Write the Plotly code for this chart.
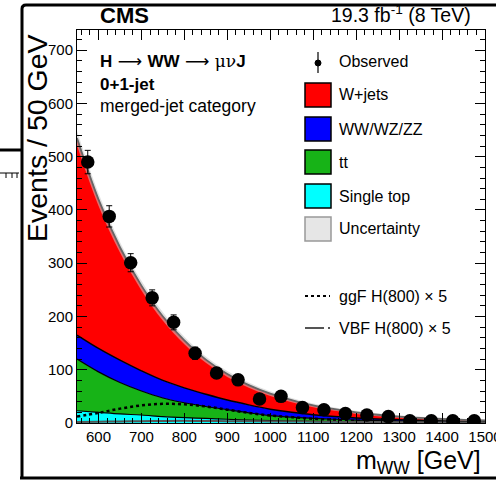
import plotly.graph_objects as go
import numpy as np

# ---------------- data ----------------
x_grid = [550, 600, 650, 700, 750, 800, 850, 900, 950, 1000,
          1050, 1100, 1150, 1200, 1250, 1300, 1350, 1400, 1450, 1500]
single_top = [23, 20, 17, 15, 12, 10, 8.5, 7, 5.5, 4.5, 3.8, 3, 2.5, 2, 1.7, 1.5, 1.2, 1, 0.8, 0.7]
ttbar = [97, 76, 59, 45, 35, 28, 22.5, 18, 13.5, 9.5, 7.2, 5.5, 4.5, 3.5, 2.8, 2, 1.8, 1.3, 1, 0.7]
diboson = [45, 44, 42, 38, 33, 28, 23, 18, 15, 12, 9, 7, 5, 4, 3, 2.5, 2, 1.7, 1.5, 1.4]
wjets = [370, 280, 212, 160, 120, 89, 65, 49, 37, 29, 23, 17.5, 14, 10.5, 8, 6, 4.5, 3.5, 2.7, 2]
bkg_unc = [14, 12, 10, 9, 8, 7, 6, 5.5, 5, 4.5, 4, 3.5, 3.2, 3, 2.8, 2.6, 2.4, 2.2, 2, 1.8]
ggf_x5 = [12, 19, 27, 33, 36, 35, 31, 25, 19, 14, 11, 8, 6, 4, 3, 2, 1.5, 1, 0.7, 0.5]
vbf_x5 = [2, 2.5, 3, 3.5, 3.8, 4, 3.8, 3.5, 3.2, 3, 2.7, 2.5, 2.2, 2, 1.8, 1.5, 1.3, 1, 0.9, 0.8]

obs_x = [575, 625, 675, 725, 775, 825, 875, 925, 975, 1025,
         1075, 1125, 1175, 1225, 1275, 1325, 1375, 1425, 1475]
obs_y = [490, 388, 301, 235, 189, 131, 94, 81, 45, 50, 29, 25, 18, 15, 12, 4, 4, 4, 4]
obs_err = [22, 20, 17, 15, 14, 11.5, 9.7, 9, 6.7, 7, 5.4, 5, 4.2, 3.9, 3.5, 2, 2, 2, 2]

x_tickvals = [600, 700, 800, 900, 1000, 1100, 1200, 1300, 1400, 1500]

legend_labels = ["Observed", "W+jets", "WW/WZ/ZZ", "tt", "Single top", "Uncertainty"]
legend_colors = [None, "#ff0000", "#0000ff", "#17b317", "#00ffff", "#e6e6e6"]

# ---------------- geometry helpers (pixel -> paper) ----------------
L, R, T, B = 77, 485, 30, 423
W, H = 496, 482
def px(x):
    return (x - L) / (R - L)
def py(y):
    return (B - y) / (B - T)

FONT = "Liberation Sans, Arial, Helvetica, sans-serif"

c1 = np.array(single_top)
c2 = c1 + np.array(ttbar)
c3 = c2 + np.array(diboson)
c4 = c3 + np.array(wjets)
unc = np.array(bkg_unc)

fig = go.Figure()
common = dict(x=x_grid, mode="lines", showlegend=False, hoverinfo="skip")
fig.add_trace(go.Scatter(y=c1, fill="tozeroy", fillcolor="#00ffff",
                         line=dict(color="black", width=1.2, shape="spline"), **common))
fig.add_trace(go.Scatter(y=c2, fill="tonexty", fillcolor="#17b317",
                         line=dict(color="black", width=1.2, shape="spline"), **common))
fig.add_trace(go.Scatter(y=c3, fill="tonexty", fillcolor="#0000ff",
                         line=dict(color="black", width=1.5, shape="spline"), **common))
fig.add_trace(go.Scatter(y=c4, fill="tonexty", fillcolor="#ff0000",
                         line=dict(color="#ff0000", width=0.5, shape="spline"), **common))
# uncertainty band
fig.add_trace(go.Scatter(y=c4 - unc, line=dict(color="rgba(0,0,0,0)", width=0, shape="spline"), **common))
fig.add_trace(go.Scatter(y=c4 + unc, fill="tonexty", fillcolor="rgba(200,200,200,0.55)",
                         line=dict(color="rgba(0,0,0,0)", width=0, shape="spline"), **common))
fig.add_trace(go.Scatter(y=c4, line=dict(color="#666666", width=1.8, shape="spline"), **common))
# signals
fig.add_trace(go.Scatter(y=ggf_x5, line=dict(color="black", width=2.5, dash="dot", shape="spline"), **common))
fig.add_trace(go.Scatter(y=vbf_x5, line=dict(color="#555555", width=2, shape="spline"), **common))
# observed
fig.add_trace(go.Scatter(x=obs_x, y=obs_y, mode="markers", showlegend=False,
                         marker=dict(color="black", size=13.5),
                         error_y=dict(type="data", array=obs_err, color="black", thickness=1, width=3)))

shapes = []
ann = []

# legend
ylist = [62, 95, 129, 162, 196, 229]
for i, (lab, col) in enumerate(zip(legend_labels, legend_colors)):
    yc = ylist[i]
    if col is None:
        shapes.append(dict(type="line", xref="paper", yref="paper", x0=px(318), x1=px(318),
                           y0=py(52), y1=py(73), line=dict(color="black", width=1.2)))
        shapes.append(dict(type="circle", xref="paper", yref="paper", x0=px(315), x1=px(321),
                           y0=py(60), y1=py(66), fillcolor="black", line=dict(color="black", width=1)))
    else:
        lc = "#999999" if lab == "Uncertainty" else "black"
        shapes.append(dict(type="rect", xref="paper", yref="paper", x0=px(305), x1=px(331),
                           y0=py(yc + 12), y1=py(yc - 12), fillcolor=col, line=dict(color=lc, width=1.5)))
    ann.append(dict(text=lab, xref="paper", yref="paper", x=px(337), y=py(yc), xanchor="left",
                    yanchor="middle", showarrow=False, font=dict(family=FONT, size=16, color="black")))

shapes.append(dict(type="line", xref="paper", yref="paper", x0=px(305), x1=px(330), y0=py(296), y1=py(296),
                   line=dict(color="black", width=2, dash="dot")))
ann.append(dict(text="ggF H(800) × 5", xref="paper", yref="paper", x=px(337), y=py(296), xanchor="left",
                yanchor="middle", showarrow=False, font=dict(family=FONT, size=16, color="black")))
shapes.append(dict(type="line", xref="paper", yref="paper", x0=px(305), x1=px(324), y0=py(328), y1=py(328),
                   line=dict(color="#555555", width=2)))
shapes.append(dict(type="line", xref="paper", yref="paper", x0=px(328), x1=px(330), y0=py(328), y1=py(328),
                   line=dict(color="#555555", width=2)))
ann.append(dict(text="VBF H(800) × 5", xref="paper", yref="paper", x=px(337), y=py(328), xanchor="left",
                yanchor="middle", showarrow=False, font=dict(family=FONT, size=16, color="black")))

# texts
ARROW = "<span style=\"font-family:'DejaVu Sans';font-weight:normal\"> ⟶ </span>"
GREEK = "<span style=\"font-family:'DejaVu Serif';font-weight:normal\">μν</span>"
ann.append(dict(text="<b>CMS</b>", xref="paper", yref="paper", x=px(98), y=py(15), xanchor="left",
                yanchor="middle", showarrow=False, font=dict(family=FONT, size=22, color="black")))
ann.append(dict(text="19.3 fb<sup>-1</sup> (8 TeV)", xref="paper", yref="paper", x=px(473), y=py(14),
                xanchor="right", yanchor="middle", showarrow=False, font=dict(family=FONT, size=19.5, color="black")))
ann.append(dict(text="<b>H" + ARROW + "WW" + ARROW + GREEK + "J</b>", xref="paper", yref="paper", x=px(98), y=py(61),
                xanchor="left", yanchor="middle", showarrow=False, font=dict(family=FONT, size=17, color="black")))
ann.append(dict(text="<b>0+1-jet</b>", xref="paper", yref="paper", x=px(98), y=py(84), xanchor="left",
                yanchor="middle", showarrow=False, font=dict(family=FONT, size=17, color="black")))
ann.append(dict(text="merged-jet category", xref="paper", yref="paper", x=px(98), y=py(106), xanchor="left",
                yanchor="middle", showarrow=False, font=dict(family=FONT, size=17.5, color="black")))
ann.append(dict(text="Events / 50 GeV", xref="paper", yref="paper", x=px(37), y=py(138), xanchor="center",
                yanchor="middle", textangle=-90, showarrow=False, font=dict(family=FONT, size=28.5, color="black")))
ann.append(dict(text="m<sub>WW</sub> [GeV]", xref="paper", yref="paper", x=px(483), y=py(462), xanchor="right",
                yanchor="middle", showarrow=False, font=dict(family=FONT, size=25, color="black")))

# outer frame fragments
fr = dict(color="black", width=3)
shapes.append(dict(type="path", xref="paper", yref="paper",
                   path=f"M {px(22)},{py(478)} L {px(22)},{py(9)} Q {px(22)},{py(5)} {px(26)},{py(5)} L {px(500)},{py(5)}",
                   line=fr))
shapes.append(dict(type="line", xref="paper", yref="paper", x0=px(20), x1=px(500), y0=py(478), y1=py(478), line=fr))
shapes.append(dict(type="line", xref="paper", yref="paper", x0=px(-5), x1=px(22), y0=py(150), y1=py(150), line=fr))
shapes.append(dict(type="line", xref="paper", yref="paper", x0=px(-5), x1=px(19), y0=py(173), y1=py(173),
                   line=dict(color="black", width=1)))
for tx in [6, 12, 17]:
    shapes.append(dict(type="line", xref="paper", yref="paper", x0=px(tx), x1=px(tx), y0=py(173), y1=py(178),
                       line=dict(color="black", width=1)))

fig.update_layout(
    width=W, height=H, autosize=False,
    margin=dict(l=L, r=W - R, t=T, b=H - B, autoexpand=False),
    paper_bgcolor="white", plot_bgcolor="white",
    shapes=shapes, annotations=ann, showlegend=False,
    font=dict(family=FONT, size=15, color="black"),
)
axis_common = dict(showline=True, linecolor="black", linewidth=1, mirror="ticks", ticks="inside",
                   ticklen=10, tickcolor="black", showgrid=False, zeroline=False, automargin=False,
                   tickfont=dict(family=FONT, size=15, color="black"))
fig.update_xaxes(range=[550, 1500.01], tickmode="array", tickvals=x_tickvals,
                 ticktext=[str(v) for v in x_tickvals], ticklabeloverflow="allow",
                 minor=dict(ticks="inside", ticklen=5, dtick=20, tick0=600, tickcolor="black", showgrid=False),
                 **axis_common)
fig.update_yaxes(range=[0, 738], tick0=0, dtick=100,
                 minor=dict(ticks="inside", ticklen=5, dtick=20, tick0=0, tickcolor="black", showgrid=False),
                 **axis_common)

fig.write_html("out.html")
